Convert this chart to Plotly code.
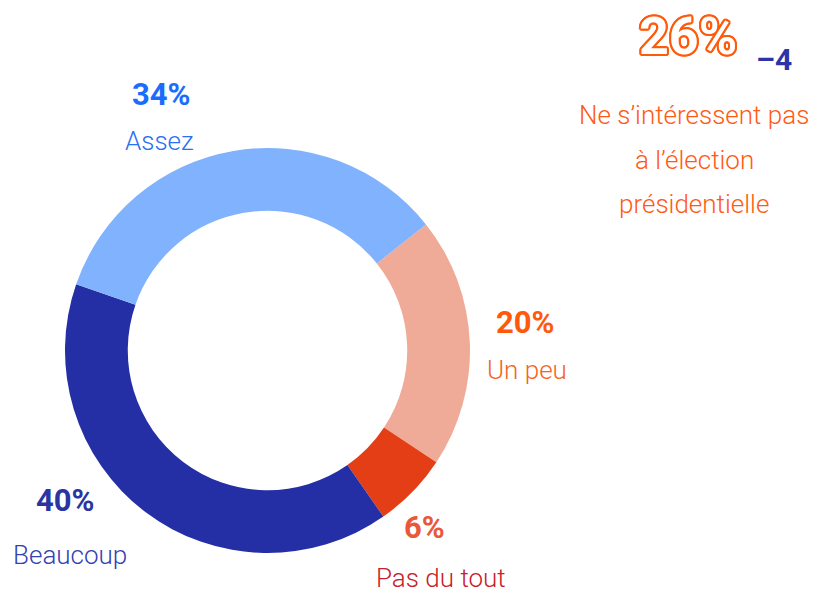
import plotly.graph_objects as go

# Data
categories = ["Un peu", "Pas du tout", "Beaucoup", "Assez"]
values = [20, 6, 40, 34]
slice_colors = ["#f0aa98", "#e33e16", "#242fa6", "#80b2fd"]
value_labels = ["20%", "6%", "40%", "34%"]
pct_colors = ["#ff5a0c", "#e8583a", "#2a34a2", "#1a6cff"]
name_colors = ["#f5641e", "#c8202a", "#3342b2", "#2a70f2"]
headline_value = "26%"
headline_change = "–4"
headline_lines = ["Ne s’intéressent pas", "à l’élection", "présidentielle"]

W, H = 833, 599
FONT = "Roboto, Liberation Sans, DejaVu Sans, sans-serif"


def px(x):
    return x / W


def py(y):
    return 1 - y / H


fig = go.Figure(go.Pie(
    labels=categories,
    values=values,
    sort=False,
    direction="clockwise",
    rotation=51.5,
    hole=0.69,
    marker=dict(colors=slice_colors, line=dict(width=0)),
    textinfo="none",
    hoverinfo="label+percent",
    domain=dict(x=[px(65), px(470)], y=[py(553), py(148)]),
    showlegend=False,
))

# label positions in pixels (centre of the text)
pct_pos = [(525, 322), (424, 527), (65, 500), (161, 94)]
name_pos = [(527, 370), (441, 578), (70, 555), (159, 141)]

annotations = []
for i in range(len(categories)):
    ax, ay = pct_pos[i]
    nx, ny = name_pos[i]
    annotations.append(dict(
        x=px(ax), y=py(ay), xref="paper", yref="paper",
        text="<b>%s</b>" % value_labels[i], showarrow=False,
        xanchor="center", yanchor="middle",
        font=dict(family=FONT, size=31, color=pct_colors[i])))
    annotations.append(dict(
        x=px(nx), y=py(ny), xref="paper", yref="paper",
        text=categories[i], showarrow=False,
        xanchor="center", yanchor="middle",
        font=dict(family=FONT, size=26, weight=300, color=name_colors[i])))

oc = "#ff5a0a"
outline = ", ".join("%dpx %dpx 0 %s" % (dx, dy, oc) for dx, dy in
                    [(2, 0), (-2, 0), (0, 2), (0, -2), (1, 1), (-1, -1),
                     (1, -1), (-1, 1), (2, 1), (-2, -1), (2, -1), (-2, 1),
                     (1, 2), (-1, -2), (1, -2), (-1, 2)])
annotations.append(dict(
    x=px(688), y=py(37), xref="paper", yref="paper",
    text="<b>%s</b>" % headline_value, showarrow=False,
    xanchor="center", yanchor="middle",
    font=dict(family=FONT, size=52, color="white", shadow=outline)))
annotations.append(dict(
    x=px(774), y=py(59), xref="paper", yref="paper",
    text="<b>%s</b>" % headline_change, showarrow=False,
    xanchor="center", yanchor="middle",
    font=dict(family=FONT, size=30, color="#2a35a8")))
for line, ly in zip(headline_lines, [115, 160, 204]):
    annotations.append(dict(
        x=px(694), y=py(ly), xref="paper", yref="paper",
        text=line, showarrow=False, xanchor="center", yanchor="middle",
        font=dict(family=FONT, size=26, weight=300, color="#ff5a14")))

fig.update_layout(
    width=W, height=H,
    margin=dict(l=0, r=0, t=0, b=0),
    paper_bgcolor="white", plot_bgcolor="white",
    annotations=annotations,
)

fig.write_html("out.html", config={"displayModeBar": False},
               post_script="document.body.style.margin='0';")
